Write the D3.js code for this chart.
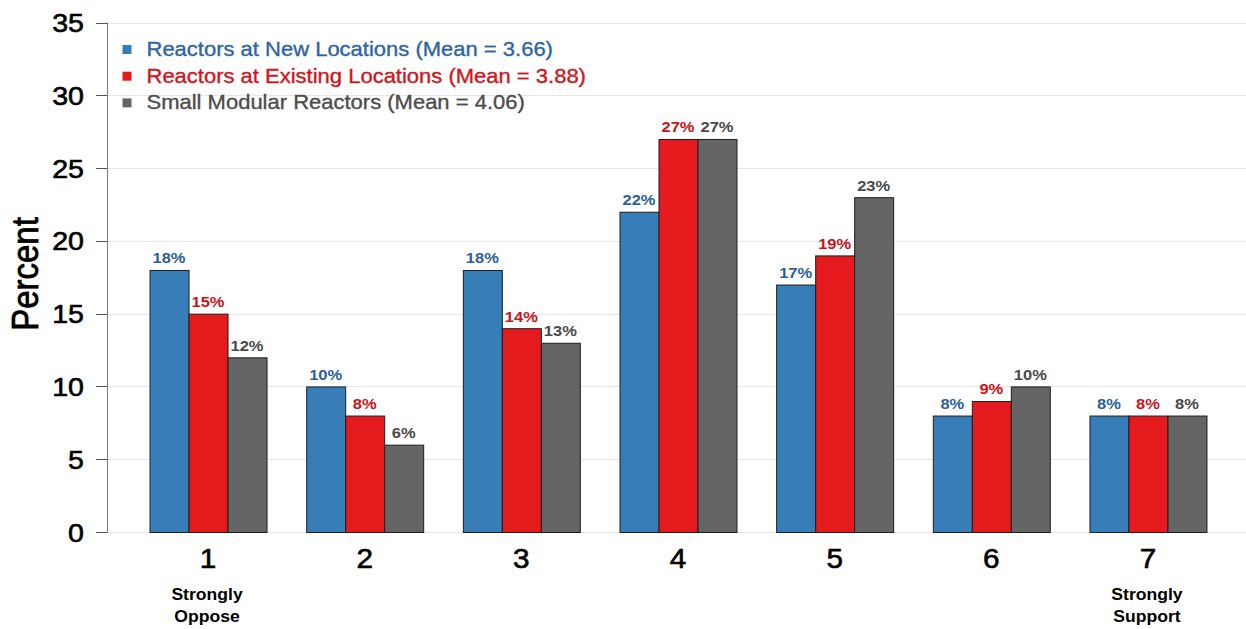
<!DOCTYPE html>
<html>
<head>
<meta charset="utf-8">
<script src="https://cdn.jsdelivr.net/npm/d3@7"></script>
<style>
  html, body { margin: 0; padding: 0; background: #fff; }
  svg { display: block; font-family: "Liberation Sans", Arial, sans-serif; }
</style>
</head>
<body>
<svg id="chart" width="1246" height="629"></svg>
<script>
// Survey responses: support for new nuclear reactors on a 1–7 scale
const categories = ["1", "2", "3", "4", "5", "6", "7"];
const seriesNames = [
  "Reactors at New Locations (Mean = 3.66)",
  "Reactors at Existing Locations (Mean = 3.88)",
  "Small Modular Reactors (Mean = 4.06)"
];
const newLocations      = [18, 10, 18, 22, 17, 8, 8];
const existingLocations = [15, 8, 14, 27, 19, 9, 8];
const smallModular      = [12, 6, 13, 27, 23, 10, 8];
const yTicks = [0, 5, 10, 15, 20, 25, 30, 35];
const endLabels = { "1": ["Strongly", "Oppose"], "7": ["Strongly", "Support"] };

const seriesValues = [newLocations, existingLocations, smallModular];
const fillColors = ["#377eb8", "#e41a1c", "#656565"];
const textColors = ["#2c5f98", "#c9141a", "#4a4a4a"];
const legendText = ["#2e64a0", "#cf151b", "#4d4d4d"];
const SX = 1.1; // horizontal stretch applied to all text

const svg = d3.select("#chart");
const axisX = 107;
const plotLeft = 129.7, plotRight = 1226.3;

const y = d3.scaleLinear().domain([0, 35]).range([532, 22.5]);
const x = d3.scaleBand().domain(categories).range([plotLeft, plotRight])
  .paddingInner(0.2532).paddingOuter(0.1266);
const xs = d3.scaleBand().domain(d3.range(seriesNames.length)).range([0, x.bandwidth()]);

function stretchText(sel, tx, ty, extra) {
  return sel.attr("transform", `translate(${tx},${ty}) scale(${SX},1)` + (extra || ""));
}
// a thin outline in the fill colour gives the text a slightly heavier weight
function heavy(sel, color, w) {
  return sel.attr("fill", color).attr("stroke", color).attr("stroke-width", w || 0.45);
}

// gridlines
svg.append("g").selectAll("line").data(yTicks).join("line")
  .attr("x1", axisX).attr("x2", 1246)
  .attr("y1", d => Math.round(y(d)) + 0.5).attr("y2", d => Math.round(y(d)) + 0.5)
  .attr("stroke", "#e6e6e6").attr("stroke-width", 1);

// y axis line and ticks
svg.append("line").attr("x1", axisX + 0.5).attr("x2", axisX + 0.5)
  .attr("y1", y(35)).attr("y2", y(0) + 0.5)
  .attr("stroke", "#7a7a7a").attr("stroke-width", 1);
svg.append("g").selectAll("line").data(yTicks).join("line")
  .attr("x1", 96).attr("x2", axisX)
  .attr("y1", d => Math.round(y(d)) + 0.5).attr("y2", d => Math.round(y(d)) + 0.5)
  .attr("stroke", "#555").attr("stroke-width", 1);
heavy(svg.append("g").selectAll("text").data(yTicks).join("text")
  .each(function(d) { stretchText(d3.select(this), 84, y(d) + 9.5); })
  .attr("text-anchor", "end").attr("font-size", 26), "#000", 0.6)
  .text(d => d);

// y axis title
heavy(stretchText(svg.append("text"), 38, 274, " rotate(-90)")
  .attr("text-anchor", "middle").attr("font-size", 33), "#000", 0.7)
  .text("Percent");

// bars
const groups = svg.append("g").selectAll("g").data(categories).join("g")
  .attr("transform", d => `translate(${x(d)},0)`);

groups.selectAll("rect")
  .data((c, i) => seriesValues.map((vals, s) => ({ s, v: vals[i] })))
  .join("rect")
  .attr("x", d => xs(d.s) + 0.5)
  .attr("y", d => y(d.v) + 0.5)
  .attr("width", xs.bandwidth())
  .attr("height", d => y(0) - y(d.v))
  .attr("fill", d => fillColors[d.s])
  .attr("stroke", "#1e1e1e").attr("stroke-width", 1);

groups.selectAll("text.val")
  .data((c, i) => seriesValues.map((vals, s) => ({ s, v: vals[i] })))
  .join("text").attr("class", "val")
  .each(function(d) { stretchText(d3.select(this), xs(d.s) + xs.bandwidth() / 2, y(d.v) - 6.5); })
  .attr("text-anchor", "middle").attr("font-size", 15).attr("font-weight", "bold")
  .attr("fill", d => textColors[d.s])
  .text(d => d.v + "%");

// category labels
heavy(svg.append("g").selectAll("text").data(categories).join("text")
  .each(function(d) { stretchText(d3.select(this), x(d) + x.bandwidth() / 2, 568); })
  .attr("text-anchor", "middle").attr("font-size", 27), "#000", 0.6)
  .text(d => d);

Object.entries(endLabels).forEach(([c, lines]) => {
  lines.forEach((t, k) => {
    stretchText(svg.append("text"), x(c) + x.bandwidth() / 2 - 1, 600 + k * 22)
      .attr("text-anchor", "middle").attr("font-size", 16).attr("font-weight", "bold")
      .attr("fill", "#000").text(t);
  });
});

// legend
const legend = svg.append("g").selectAll("g").data(seriesNames).join("g")
  .attr("transform", (d, i) => `translate(0,${i * 26.7})`);
legend.append("rect")
  .attr("x", 122.5).attr("y", 45).attr("width", 9).attr("height", 9)
  .attr("fill", (d, i) => fillColors[i]);
legend.append("text")
  .each(function() { stretchText(d3.select(this), 146.5, 56); })
  .attr("font-size", 20)
  .attr("fill", (d, i) => legendText[i])
  .attr("stroke", (d, i) => legendText[i]).attr("stroke-width", 0.35)
  .text(d => d);
</script>
</body>
</html>
